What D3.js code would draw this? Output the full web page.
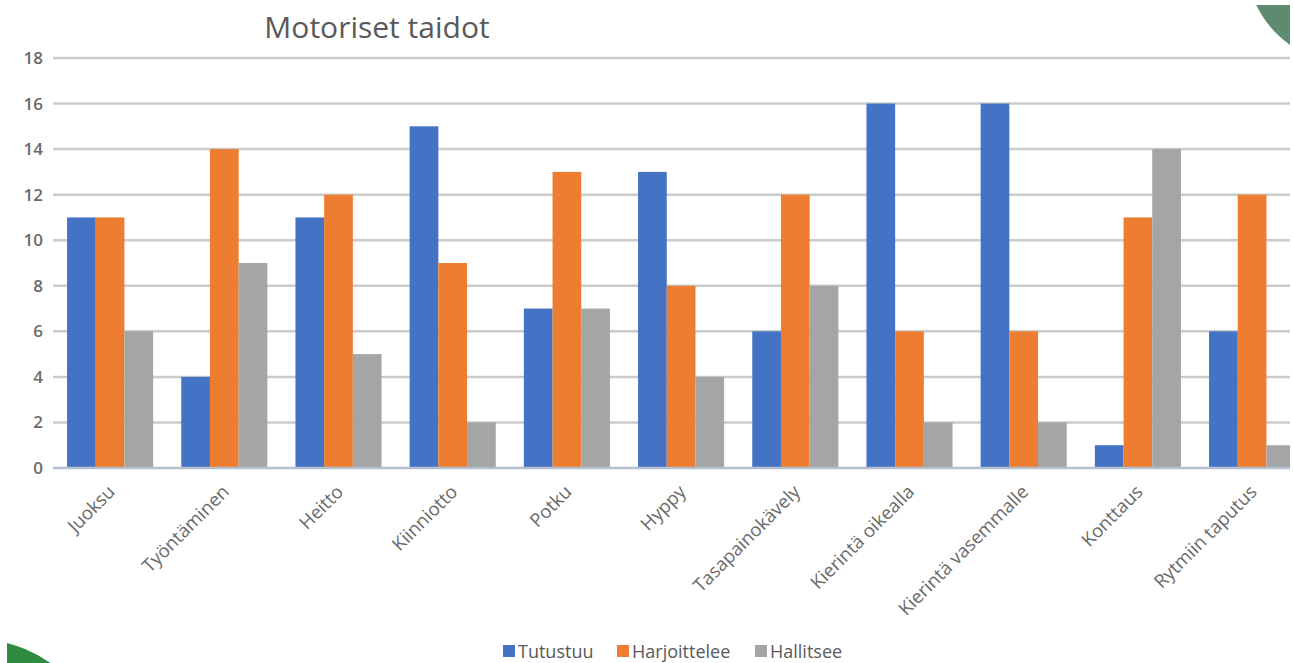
<!DOCTYPE html>
<html>
<head>
<meta charset="utf-8">
<script src="https://cdn.jsdelivr.net/npm/d3@7"></script>
<style>
  html, body { margin: 0; padding: 0; background: #fff; }
  svg { display: block; }
  text { font-family: "Open Sans", "Liberation Sans", sans-serif; }
</style>
</head>
<body>
<svg id="chart" width="1293" height="663"></svg>
<script>
// Motor skills survey: counts of children per skill and level
const categories = ["Juoksu", "Työntäminen", "Heitto", "Kiinniotto", "Potku", "Hyppy",
  "Tasapainokävely", "Kierintä oikealla", "Kierintä vasemmalle", "Konttaus", "Rytmiin taputus"];
const seriesNames = ["Tutustuu", "Harjoittelee", "Hallitsee"];
const tutustuu     = [11, 4, 11, 15, 7, 13, 6, 16, 16, 1, 6];
const harjoittelee = [11, 14, 12, 9, 13, 8, 12, 6, 6, 11, 12];
const hallitsee    = [6, 9, 5, 2, 7, 4, 8, 2, 2, 14, 1];
const yTicks = [0, 2, 4, 6, 8, 10, 12, 14, 16, 18];
const colors = ["#4472C4", "#ED7D31", "#A5A5A5"];

const seriesValues = [tutustuu, harjoittelee, hallitsee];
const W = 1293, H = 663;
const svg = d3.select("#chart");

// visible frame of the slide
svg.append("clipPath").attr("id", "frame")
  .append("rect").attr("x", 7).attr("y", 5).attr("width", 1283).attr("height", H - 5);
const root = svg.append("g").attr("clip-path", "url(#frame)");

// decorative slide circles
root.append("circle").attr("cx", 1350).attr("cy", -40).attr("r", 104).attr("fill", "#5E8B6F");
root.append("circle").attr("cx", -30).attr("cy", 780).attr("r", 142).attr("fill", "#2E8B40");

const margin = { left: 53, top: 58, bottom: 468 };
const x0 = d3.scaleBand().domain(categories).range([margin.left, margin.left + 11 * 114.2]).paddingInner(0).paddingOuter(0);
const x1 = d3.scaleBand().domain(seriesNames).range([0, x0.bandwidth()]).paddingInner(0).paddingOuter(0.49);
const y = d3.scaleLinear().domain([0, 18]).range([margin.bottom, margin.top]);

// gridlines
root.append("g").selectAll("line").data(yTicks.filter(d => d > 0)).join("line")
  .attr("x1", margin.left).attr("x2", W + 20)
  .attr("y1", d => y(d)).attr("y2", d => y(d))
  .attr("stroke", "#CBCBCB").attr("stroke-width", 2.5);

// y axis labels
const yAxis = d3.axisLeft(y).tickValues(yTicks).tickSize(0).tickPadding(10);
const ya = root.append("g").attr("transform", `translate(${margin.left},0)`).call(yAxis);
ya.select(".domain").remove();
ya.selectAll("text").attr("fill", "#6A6A6A").attr("font-size", 17).attr("font-weight", 600)
  .style("font-family", "'Open Sans', sans-serif");

// bars
const groups = root.append("g").selectAll("g").data(categories).join("g")
  .attr("transform", d => `translate(${x0(d)},0)`);
groups.selectAll("rect")
  .data((c, i) => seriesNames.map((s, k) => ({ s, k, v: seriesValues[k][i] })))
  .join("rect")
  .attr("x", d => x1(d.s))
  .attr("width", x1.bandwidth())
  .attr("y", d => y(d.v))
  .attr("height", d => y(0) - y(d.v))
  .attr("fill", d => colors[d.k]);

// baseline
root.append("line").attr("x1", margin.left).attr("x2", W + 20)
  .attr("y1", y(0)).attr("y2", y(0)).attr("stroke", "#B4C0D0").attr("stroke-width", 2.5);

// category labels
const xAxis = d3.axisBottom(x0).tickSize(0).tickPadding(0);
const xa = root.append("g").attr("transform", `translate(0,${y(0)})`).call(xAxis);
xa.select(".domain").remove();
xa.selectAll("text")
  .attr("fill", "#6A6A6A").attr("font-size", 18.5)
  .style("font-family", "'Open Sans', sans-serif")
  .attr("text-anchor", "end")
  .attr("dy", null).attr("y", 0)
  .attr("transform", "translate(6,25) rotate(-45)");

// title
root.append("text").attr("x", 377).attr("y", 38).attr("text-anchor", "middle")
  .attr("font-size", 30).attr("fill", "#595959").text("Motoriset taidot");

// legend
const legendX = [503, 617, 755];
const lg = root.append("g").selectAll("g").data(seriesNames).join("g")
  .attr("transform", (d, i) => `translate(${legendX[i]},645)`);
lg.append("rect").attr("width", 12).attr("height", 12).attr("fill", (d, i) => colors[i]);
lg.append("text").attr("x", 15).attr("y", 12.5).attr("font-size", 18).attr("fill", "#595959").text(d => d);
</script>
</body>
</html>
